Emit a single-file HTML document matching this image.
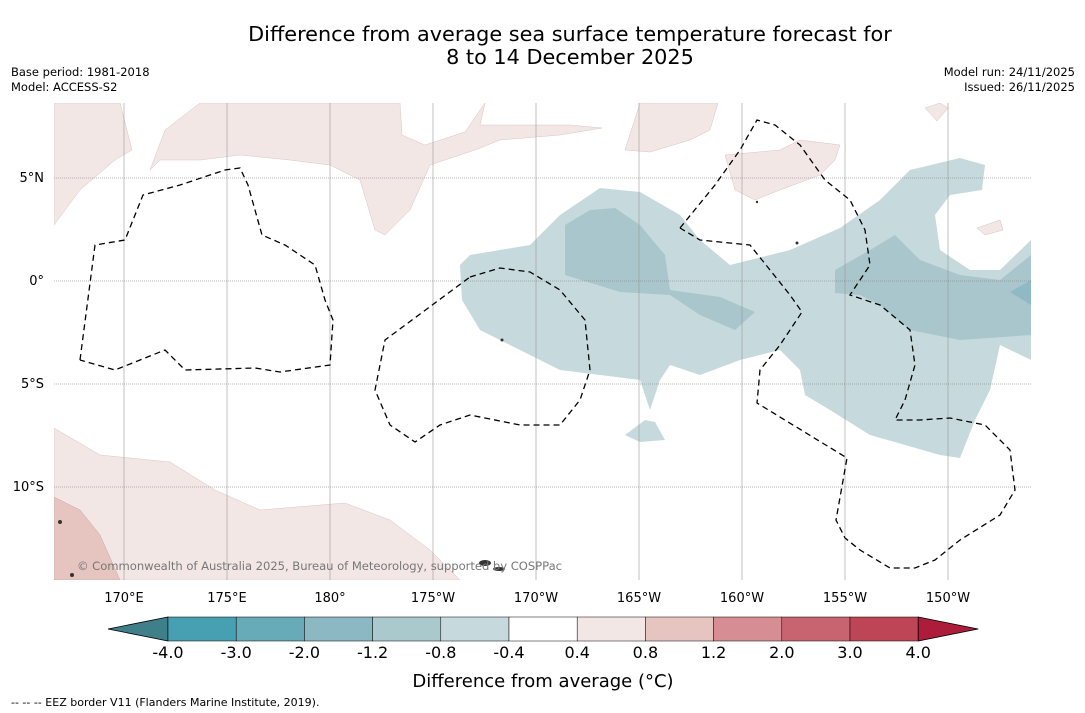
<!DOCTYPE html>
<html><head><meta charset="utf-8"><style>
body{margin:0;background:#fff;font-family:"Liberation Sans","DejaVu Sans",sans-serif}
svg{display:block}
</style></head><body>
<svg id="s" width="1085" height="713" viewBox="0 0 1085 713" font-family="DejaVu Sans, Liberation Sans, sans-serif">
<rect width="1085" height="713" fill="#fff"/>
<text x="570" y="41" text-anchor="middle" font-size="20.8">Difference from average sea surface temperature forecast for</text>
<text x="570" y="64" text-anchor="middle" font-size="20.8">8 to 14 December 2025</text>
<text x="11" y="76" font-size="11.5">Base period: 1981-2018</text>
<text x="11" y="91" font-size="11.5">Model: ACCESS-S2</text>
<text x="1075" y="76" font-size="11.5" text-anchor="end">Model run: 24/11/2025</text>
<text x="1075" y="91" font-size="11.5" text-anchor="end">Issued: 26/11/2025</text>
<defs><clipPath id="mc"><rect x="54" y="103" width="977" height="477"/></clipPath></defs>
<g clip-path="url(#mc)">
<polygon fill="#c6dadd" points="460,265 470,255 530,245 560,215 600,188 640,192 680,215 700,240 730,265 790,250 840,228 880,200 910,170 960,158 985,165 982,190 950,195 935,215 940,250 970,270 1000,270 1031,240 1031,360 1000,345 990,390 975,420 960,458 940,455 870,435 830,410 805,395 800,370 780,350 740,360 700,375 670,365 660,380 650,410 640,380 600,375 560,370 520,350 480,330 462,300"/>
<polygon fill="#c6dadd" points="625,435 645,420 655,422 665,440 640,442"/>
<polygon fill="#a8c6cb" points="565,225 590,210 615,208 640,225 665,255 670,290 720,297 755,312 735,330 700,315 670,295 620,292 565,275"/>
<polygon fill="#a8c6cb" points="835,270 870,250 895,235 920,260 960,275 1000,280 1031,255 1031,335 960,340 910,330 880,305 860,295 835,293"/>
<polygon fill="#8fb9c4" points="1010,292 1031,280 1031,305"/>
<polygon fill="#f3e7e6" stroke="#d9c3c3" stroke-width="0.5" points="54,225 54,103 120,103 132,150 115,160 80,190"/>
<polygon fill="#f3e7e6" stroke="#d9c3c3" stroke-width="0.5" points="150,170 165,130 200,103 400,103 402,135 425,145 465,132 485,103 480,125 570,125 602,128 560,135 500,140 475,150 430,165 410,210 385,235 375,230 360,180 330,165 290,160 240,155 200,160 160,160"/>
<polygon fill="#f3e7e6" stroke="#d9c3c3" stroke-width="0.5" points="625,150 640,103 718,103 710,130 690,140 650,152"/>
<polygon fill="#f3e7e6" stroke="#d9c3c3" stroke-width="0.5" points="725,155 780,150 800,140 840,145 835,160 820,175 780,190 755,200 735,190"/>
<polygon fill="#f3e7e6" stroke="#d9c3c3" stroke-width="0.5" points="925,108 940,103 948,108 937,121"/>
<polygon fill="#f3e7e6" stroke="#d9c3c3" stroke-width="0.5" points="977,228 1000,220 1003,230 985,235"/>
<polygon fill="#f3e7e6" stroke="#d9c3c3" stroke-width="0.5" points="54,428 100,455 170,462 215,490 260,510 345,503 390,520 430,550 460,580 54,580"/>
<polygon fill="#e6c5c0" stroke="#c9a8a4" stroke-width="0.5" points="54,497 80,510 100,535 120,580 54,580"/>
<g id="grid"></g>
<g fill="none" stroke="#000" stroke-width="1.3" stroke-dasharray="6,4">
<polyline points="80,360 95,245 125,240 143,195 180,185 225,170 240,168 248,185 262,235 285,245 315,265 325,300 333,320 330,365 280,372 255,368 185,370 165,350 145,358 115,370 80,360"/>
<polyline points="470,277 500,268 530,272 560,290 585,320 590,370 580,400 560,425 520,425 470,415 440,425 415,442 390,425 375,390 385,340 470,277"/>
<polyline points="680,228 715,185 740,150 757,120 775,125 800,145 825,180 850,200 865,230 870,265 850,295 880,305 910,330 915,365 905,400 895,420 920,420 950,418 985,425 1010,450 1015,490 1000,515 960,540 935,560 915,568 890,568 860,550 845,538 836,520 847,458 757,403 760,370 780,345 802,312 790,295 770,270 750,245 700,240 680,228"/>
</g>
<g fill="#333">
<ellipse cx="485" cy="563" rx="6" ry="3"/><ellipse cx="499" cy="569" rx="6" ry="2"/><circle cx="60" cy="522" r="2"/><circle cx="72" cy="575" r="2"/><circle cx="502" cy="340" r="1.5"/><circle cx="797" cy="243" r="1.5"/><circle cx="757" cy="202" r="1.2"/>
</g>
<text x="77" y="570" font-size="11.6" fill="#777" textLength="485">© Commonwealth of Australia 2025, Bureau of Meteorology, supported by COSPPac</text>
</g>
<g id="axes" font-size="13"></g>
<g id="cbar"></g>
<text x="543" y="687" text-anchor="middle" font-size="18">Difference from average (°C)</text>
<text x="11" y="706" font-size="11">-- -- -- EEZ border V11 (Flanders Marine Institute, 2019).</text>
</svg>
<script>
const lonLabels=["170°E","175°E","180°","175°W","170°W","165°W","160°W","155°W","150°W"];
const lonValues=[170,175,180,185,190,195,200,205,210];
const latLabels=["5°N","0°","5°S","10°S"];
const latValues=[5,0,-5,-10];
const cbarLabels=["-4.0","-3.0","-2.0","-1.2","-0.8","-0.4","0.4","0.8","1.2","2.0","3.0","4.0"];
const cbarColors=["#47a0b1","#66abb7","#8cb8c4","#a9c9cd","#c6dadd","#ffffff","#f3e7e6","#e6c5c0","#d68d93","#c86470","#bd4555"];
const NS="http://www.w3.org/2000/svg";
function lonX(l){return 124+(l-170)*20.6;}
function latY(l){return 281-l*20.6;}
function mk(t,a,p){const e=document.createElementNS(NS,t);for(const k in a)e.setAttribute(k,a[k]);p.appendChild(e);return e;}
const grid=document.getElementById('grid'),axes=document.getElementById('axes'),cb=document.getElementById('cbar');
lonValues.forEach((v,i)=>{
const l=mk('line',{x1:lonX(v),x2:lonX(v),y1:103,y2:580,stroke:'#999','stroke-width':0.6},grid);


const t=mk('text',{x:lonX(v),y:602,'text-anchor':'middle'},axes);t.textContent=lonLabels[i];


});
latValues.forEach((v,i)=>{
const l=mk('line',{x1:54,x2:1031,y1:latY(v),y2:latY(v),stroke:'#777','stroke-width':0.6,'stroke-dasharray':'1,1'},grid);


const t=mk('text',{x:44,y:latY(v)+4,'text-anchor':'end'},axes);t.textContent=latLabels[i];


});
const cx0=168,cw=68.2,cy=617,ch=24;
const lt=mk('polygon',{points:`108,${cy+ch/2} ${cx0},${cy} ${cx0},${cy+ch}`,fill:'#3e7f89',stroke:'#000','stroke-width':0.8},cb);


cbarColors.forEach((c,i)=>{
const r=mk('rect',{x:cx0+i*cw,y:cy,width:cw,height:ch,fill:c,stroke:'#000','stroke-width':0.5},cb);


});
const xe=cx0+cbarColors.length*cw;
const rt=mk('polygon',{points:`${xe},${cy} ${xe+60},${cy+ch/2} ${xe},${cy+ch}`,fill:'#ad1c3a',stroke:'#000','stroke-width':0.8},cb);


cbarLabels.forEach((s,i)=>{
const t=mk('text',{x:cx0+i*cw,y:658,'text-anchor':'middle','font-size':16},cb);t.textContent=s;


});
</script>
</body></html>
